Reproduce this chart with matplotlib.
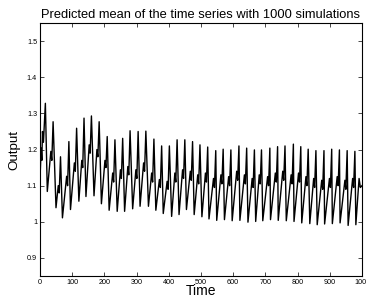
"""Predicted mean of a simulated time series (MATLAB-style line plot)."""

import matplotlib
matplotlib.use("Agg")
import matplotlib.pyplot as plt

# opening wiggle before the first full cycle
start_t = [0, 4, 6, 8, 11]
start_v = [1.112, 1.204, 1.17, 1.25, 1.22]

# per-cycle extremes
peak_t = [17, 41, 64, 90, 114, 137, 160, 184, 209, 233, 257, 280, 305, 329,
          354, 378, 402, 426, 450, 474, 497, 521, 546, 569, 593, 618, 642,
          666, 688, 714, 738, 761, 787, 810, 833, 857, 882, 906, 930, 954, 978]
peak_v = [1.328, 1.277, 1.18, 1.222, 1.259, 1.287, 1.293, 1.277, 1.236, 1.227,
          1.231, 1.252, 1.25, 1.251, 1.229, 1.21, 1.21, 1.227, 1.227, 1.222,
          1.213, 1.207, 1.197, 1.201, 1.199, 1.21, 1.204, 1.199, 1.199, 1.204,
          1.208, 1.21, 1.215, 1.208, 1.201, 1.197, 1.197, 1.201, 1.199, 1.197,
          1.195]
trough_t = [23, 50, 70, 95, 121, 143, 168, 191, 215, 240, 263, 288, 311, 337,
            360, 383, 409, 432, 455, 479, 503, 525, 549, 573, 597, 621, 646,
            670, 692, 716, 740, 765, 789, 813, 838, 861, 884, 908, 932, 957, 981]
trough_v = [1.084, 1.039, 1.011, 1.034, 1.057, 1.07, 1.072, 1.05, 1.032, 1.029,
            1.029, 1.036, 1.043, 1.043, 1.032, 1.023, 1.015, 1.02, 1.034, 1.02,
            1.014, 1.008, 1.004, 1.006, 1.003, 1.004, 0.999, 1.001, 1.003, 1.006,
            1.004, 1.003, 1.001, 0.997, 0.995, 0.992, 0.994, 0.995, 0.997, 0.99,
            0.992]
# shoulder and notch on the way up to each peak (from the 2nd peak on)
shoulder_v = [1.195, 1.10, 1.126, 1.163, 1.17, 1.213, 1.2, 1.17, 1.135, 1.144,
              1.153, 1.144, 1.163, 1.135, 1.117, 1.112, 1.135, 1.144, 1.14, 1.13,
              1.135, 1.12, 1.13, 1.125, 1.14, 1.13, 1.12, 1.13, 1.125, 1.135,
              1.14, 1.13, 1.135, 1.125, 1.12, 1.115, 1.12, 1.125, 1.115, 1.12]
notch_v = [1.17, 1.08, 1.10, 1.14, 1.15, 1.19, 1.18, 1.15, 1.11, 1.12,
           1.13, 1.12, 1.14, 1.11, 1.095, 1.09, 1.11, 1.12, 1.115, 1.105,
           1.11, 1.095, 1.105, 1.10, 1.115, 1.105, 1.095, 1.105, 1.10, 1.11,
           1.115, 1.105, 1.11, 1.10, 1.095, 1.09, 1.095, 1.10, 1.09, 1.095]
end_t = [991, 995, 1000]
end_v = [1.12, 1.095, 1.10]

# assemble the polyline vertices in time order
t = list(start_t)
v = list(start_v)
for i in range(len(peak_t)):
    if i > 0:
        t += [peak_t[i] - 7, peak_t[i] - 4]
        v += [shoulder_v[i - 1], notch_v[i - 1]]
    t += [peak_t[i], trough_t[i]]
    v += [peak_v[i], trough_v[i]]
t += end_t
v += end_v

plt.rcParams["font.family"] = ["Liberation Sans", "DejaVu Sans"]

fig = plt.figure(figsize=(3.66, 3.00), dpi=100)
ax = fig.add_axes([0.109, 0.08, 0.88, 0.843])
ax.plot(t, v, color="black", linewidth=1.0)

ax.set_xlim(0, 1000)
ax.set_ylim(0.85, 1.55)
ax.set_xticks(range(0, 1001, 100))
yticks = [0.9, 1.0, 1.1, 1.2, 1.3, 1.4, 1.5]
ax.set_yticks(yticks)
ax.set_yticklabels(["0.9", "1", "1.1", "1.2", "1.3", "1.4", "1.5"])
ax.tick_params(direction="in", length=3, width=0.5, labelsize=5.2,
               top=True, right=True, pad=2)
for spine in ax.spines.values():
    spine.set_linewidth(0.8)

ax.set_title("Predicted mean of the time series with 1000 simulations",
             fontsize=9.3, pad=4)
ax.set_xlabel("Time", fontsize=10, labelpad=-1)
ax.set_ylabel("Output", fontsize=9.6, labelpad=5)

fig.savefig("out.png", dpi=100)
